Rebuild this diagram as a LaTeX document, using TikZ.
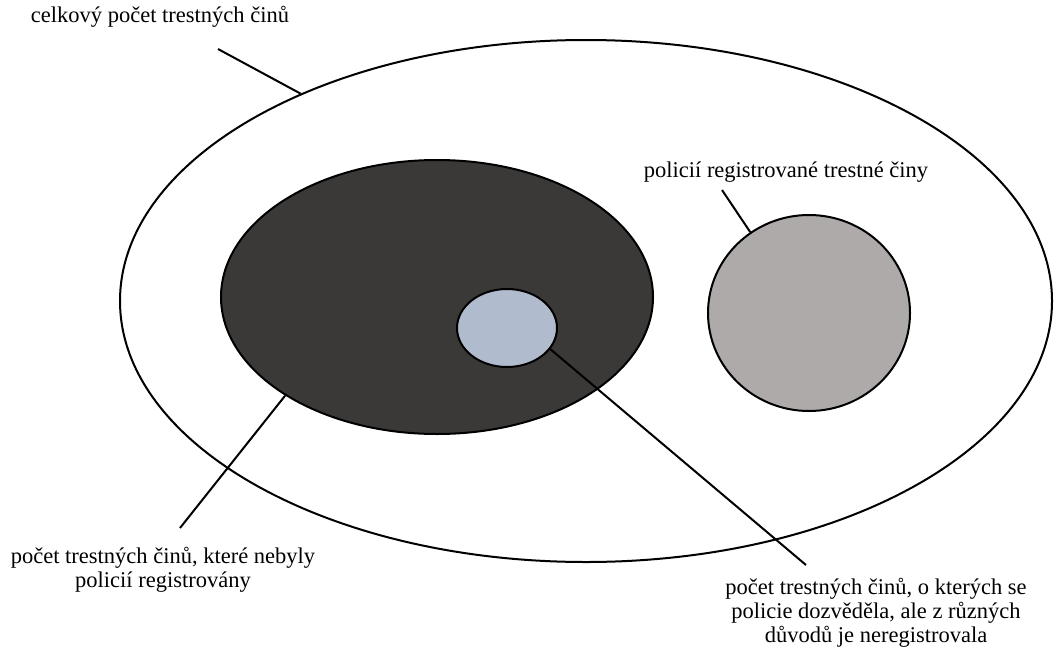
\documentclass[tikz,border=0pt]{standalone}
\usepackage{fontspec}
\setmainfont{Liberation Serif}
\usetikzlibrary{shapes.geometric}
\definecolor{darkfill}{HTML}{3A3938}
\definecolor{grayfill}{HTML}{AEAAAA}
\definecolor{bluefill}{HTML}{B0BCCD}
\tikzset{
  blob/.style={ellipse, draw=black, line width=2pt, inner sep=0pt},
  leader/.style={draw=black, line width=2pt},
  lbl/.style={font=\fontsize{22.5}{23.8}\selectfont, align=center, inner sep=0pt}
}
\begin{document}
\begin{tikzpicture}[x=1pt,y=-1pt]
\useasboundingbox (0,0) rectangle (1054,653);
\node[blob, fill=white, minimum width=932pt, minimum height=522pt] (outer) at (586,301) {};
\node[blob, fill=darkfill, minimum width=432pt, minimum height=274pt] (dark) at (437,297) {};
\node[blob, fill=bluefill, minimum width=100pt, minimum height=78pt] (small) at (507,328) {};
\node[blob, fill=grayfill, minimum width=202pt, minimum height=196pt] (gray) at (809,313) {};

\node[lbl] (tTotal) at (160,17) {celkový počet trestných činů};
\node[lbl] (tReg) at (786,172) {policií registrované trestné činy};
\node[lbl] (tUnreg) at (163,570) {počet trestných činů, které nebyly\\policií registrovány};
\node[lbl] (tKnown) at (876,613) {počet trestných činů, o kterých se\\policie dozvěděla, ale z různých\\důvodů je neregistrovala};

\coordinate (cTotal) at (218,49);
\coordinate (cReg) at (722,190);
\coordinate (cUnreg) at (180,528);
\coordinate (cKnown) at (806,565);

\draw[leader] (cTotal) -- (outer.144.2);
\draw[leader] (cReg) -- (gray.126.4);
\draw[leader] (cUnreg) -- (dark.-147);
\draw[leader] (cKnown) -- (small.-26);
\end{tikzpicture}
\end{document}
